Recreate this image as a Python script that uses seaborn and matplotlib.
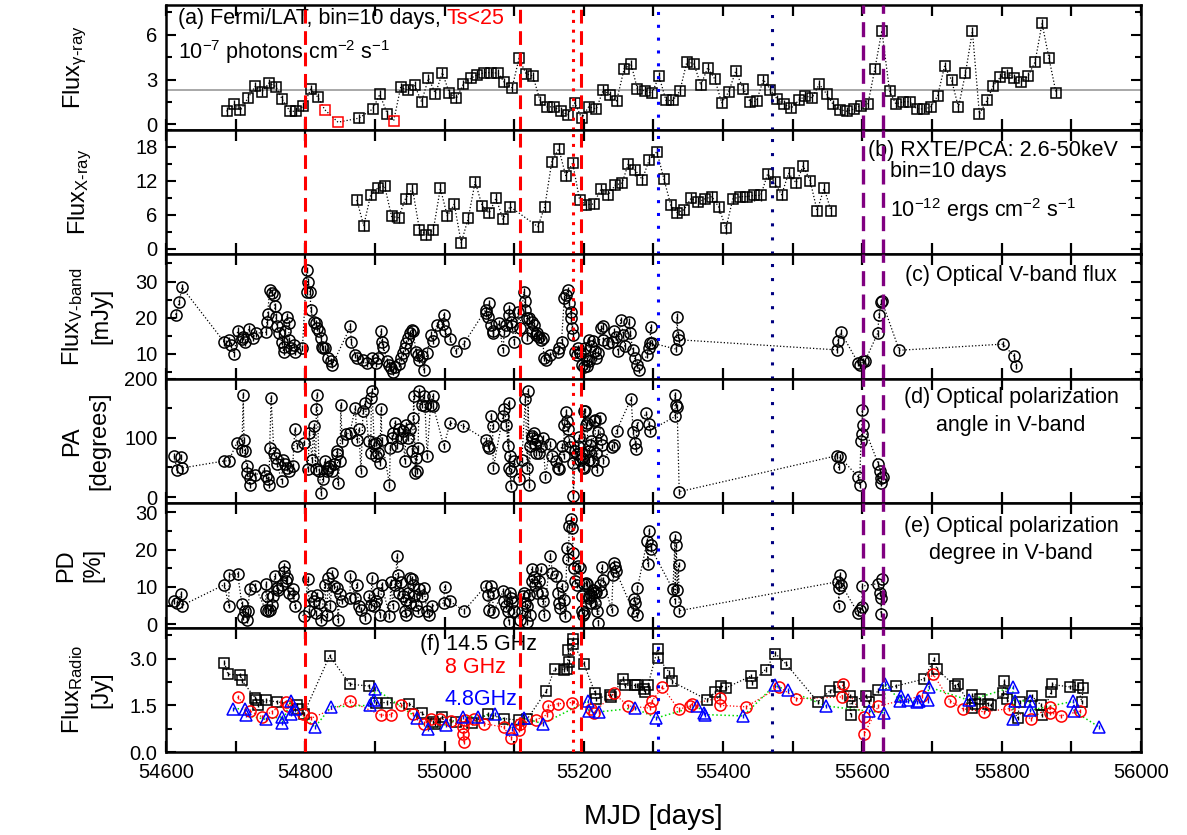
import numpy as np
import matplotlib
matplotlib.use("Agg")
import matplotlib.pyplot as plt
from matplotlib.ticker import MultipleLocator, FormatStrFormatter
import seaborn as sns

# ---------------------------------------------------------------- data
# (MJD, value) pairs for every light curve

# Fermi/LAT gamma-ray flux, 10-day bins [1e-7 ph cm^-2 s^-1]
gamma_flux = [
    (54687, 0.87), (54698, 1.33), (54707, 0.94), (54718, 1.78), (54728, 2.54),
    (54738, 2.17), (54748, 2.77), (54758, 2.52), (54767, 1.67), (54778, 0.87),
    (54787, 0.87), (54797, 1.21), (54808, 2.36), (54818, 1.83), (54877, 0.41),
    (54897, 1.03), (54907, 2.01), (54918, 0.69), (54937, 2.47), (54947, 2.31),
    (54957, 2.63), (54967, 1.51), (54977, 3.09), (54987, 2.06), (54997, 3.46),
    (55007, 2.08), (55017, 1.74), (55027, 2.70), (55038, 3.09), (55047, 3.32),
    (55057, 3.46), (55067, 3.46), (55077, 3.43), (55086, 2.81), (55097, 2.45),
    (55107, 4.42), (55117, 3.39), (55127, 3.23), (55137, 1.62), (55147, 1.17),
    (55157, 1.17), (55167, 0.87), (55177, 0.64), (55187, 1.44), (55197, 0.41),
    (55207, 1.17), (55218, 1.03), (55228, 2.31), (55238, 1.95), (55247, 1.56),
    (55258, 3.73), (55268, 4.03), (55277, 2.36), (55288, 2.24), (55298, 2.08),
    (55308, 3.23), (55318, 1.60), (55328, 1.60), (55338, 2.24), (55348, 4.19),
    (55358, 4.07), (55368, 2.63), (55378, 3.80), (55388, 3.04), (55398, 1.44),
    (55408, 2.17), (55418, 3.55), (55429, 2.40), (55439, 1.49), (55448, 1.56),
    (55458, 3.00), (55468, 2.31), (55478, 1.67), (55488, 1.33), (55498, 1.10),
    (55509, 1.62), (55518, 1.90), (55528, 1.78), (55538, 2.70), (55549, 2.01),
    (55558, 1.33), (55568, 0.98), (55578, 0.87), (55588, 1.03), (55598, 1.26),
    (55608, 1.37), (55618, 3.73), (55628, 6.29), (55639, 2.24), (55648, 1.37),
    (55658, 1.51), (55668, 1.51), (55678, 1.03), (55688, 1.03), (55698, 1.14),
    (55708, 1.90), (55718, 3.89), (55728, 2.97), (55738, 1.14), (55748, 3.43),
    (55758, 6.25), (55768, 0.69), (55779, 1.60), (55788, 2.59), (55798, 3.16),
    (55808, 3.43), (55818, 3.09), (55828, 2.86), (55838, 3.23), (55848, 4.19),
    (55858, 6.77), (55868, 4.42), (55878, 2.13),
]
gamma_err = 0.3
# bins with test statistic below 25
gamma_low_ts = [(54828, 0.98), (54847, 0.14), (54927, 0.23)]
gamma_mean = 2.27

# RXTE/PCA X-ray flux [1e-12 erg cm^-2 s^-1]
xray_flux = [
    (54874, 8.6), (54884, 4.1), (54894, 9.5), (54904, 10.7), (54914, 11.1),
    (54924, 5.7), (54934, 5.5), (54944, 8.85), (54954, 10.6), (54964, 3.4),
    (54974, 2.45), (54984, 3.4), (54994, 10.66), (55004, 5.8), (55014, 7.86),
    (55024, 1.05), (55034, 5.36), (55044, 11.8), (55054, 7.6), (55064, 6.3),
    (55074, 8.9), (55084, 5.2), (55094, 7.45), (55134, 3.9), (55144, 7.45),
    (55154, 15.3), (55164, 17.65), (55174, 12.9), (55184, 15.1), (55194, 8.6),
    (55203, 7.75), (55214, 7.9), (55225, 10.6), (55235, 9.5), (55245, 11.2),
    (55255, 11.6), (55264, 15.0), (55274, 13.8), (55284, 12.2), (55294, 15.7),
    (55305, 17.1), (55315, 12.3), (55325, 7.66), (55334, 6.4), (55344, 6.9),
    (55354, 8.9), (55364, 8.2), (55374, 8.8), (55384, 9.2), (55394, 7.3),
    (55404, 3.6), (55414, 8.8), (55425, 9.2), (55434, 9.2), (55444, 9.4),
    (55454, 9.4), (55464, 13.2), (55474, 11.7), (55484, 9.5), (55494, 13.3),
    (55505, 11.6), (55515, 14.6), (55525, 12.0), (55535, 6.7), (55545, 10.7),
    (55555, 6.7),
]
xray_err = 0.9

# optical V-band flux [mJy]
vband_flux = [
    (54614, 20.8), (54619, 24.3), (54623, 28.4), (54684, 13.2), (54691, 13.9),
    (54693, 12.5), (54698, 10.0), (54703, 16.4), (54709, 14.1), (54711, 14.8),
    (54714, 13.2), (54719, 17.0), (54725, 14.5), (54729, 15.7), (54744, 16.0),
    (54745, 18.9), (54746, 21.0), (54749, 27.7), (54752, 26.8), (54755, 26.3),
    (54756, 23.1), (54758, 20.3), (54759, 17.6), (54763, 15.7), (54766, 13.4),
    (54769, 10.6), (54770, 12.0), (54771, 16.2), (54774, 20.3), (54776, 18.5),
    (54777, 13.9), (54780, 11.6), (54784, 12.5), (54785, 10.6), (54796, 11.6),
    (54802, 33.2), (54803, 27.2), (54804, 30.0), (54807, 27.2), (54808, 22.2),
    (54812, 18.9), (54815, 18.5), (54817, 17.1), (54820, 16.2), (54823, 14.5),
    (54824, 12.0), (54826, 11.6), (54829, 11.6), (54833, 8.8), (54837, 7.9),
    (54839, 7.0), (54865, 17.6), (54866, 13.4), (54872, 9.7), (54874, 9.0),
    (54883, 8.3), (54888, 7.4), (54896, 8.8), (54901, 7.4), (54904, 8.8),
    (54909, 16.2), (54910, 13.4), (54912, 12.0), (54918, 7.9), (54920, 7.0),
    (54923, 6.0), (54926, 5.1), (54929, 6.5), (54934, 7.2), (54937, 8.8),
    (54940, 10.2), (54943, 11.6), (54945, 13.0), (54948, 14.4), (54951, 15.7),
    (54953, 16.6), (54955, 16.2), (54959, 10.6), (54962, 9.7), (54964, 8.3),
    (54967, 9.3), (54970, 5.6), (54975, 10.2), (54980, 15.3), (54983, 13.7),
    (54989, 18.0), (54998, 18.2), (54999, 20.8), (55000, 16.2), (55008, 14.1),
    (55016, 10.8), (55028, 12.9), (55059, 22.2), (55060, 21.2), (55062, 20.3),
    (55064, 24.0), (55067, 18.0), (55069, 16.2), (55070, 15.7), (55078, 18.5),
    (55084, 11.1), (55086, 16.2), (55089, 18.0), (55092, 20.8), (55093, 22.6),
    (55095, 18.9), (55097, 17.6), (55100, 13.4), (55106, 21.7), (55108, 17.1),
    (55114, 27.2), (55115, 24.5), (55116, 22.2), (55118, 19.9), (55119, 14.4),
    (55122, 19.9), (55125, 18.9), (55126, 16.2), (55129, 18.0), (55131, 15.3),
    (55133, 15.7), (55135, 14.8), (55138, 13.9), (55141, 14.4), (55143, 8.8),
    (55146, 8.3), (55152, 9.7), (55163, 10.6), (55165, 11.6), (55168, 13.4),
    (55172, 25.4), (55175, 26.3), (55177, 27.7), (55179, 24.0), (55181, 21.7),
    (55182, 19.9), (55183, 17.1), (55185, 15.3), (55188, 10.6), (55190, 9.7),
    (55192, 11.6), (55194, 10.2), (55197, 7.0), (55200, 6.5), (55202, 11.6),
    (55204, 6.6), (55205, 8.3), (55207, 8.0), (55208, 13.9), (55210, 12.1),
    (55213, 13.6), (55216, 10.7), (55218, 8.9), (55221, 10.2), (55224, 17.1),
    (55227, 17.6), (55228, 13.9), (55235, 13.0), (55240, 13.4), (55243, 16.2),
    (55246, 14.8), (55249, 10.7), (55253, 19.4), (55257, 15.3), (55259, 12.1),
    (55265, 18.9), (55267, 15.7), (55270, 11.1), (55273, 8.9), (55276, 7.0),
    (55279, 5.6), (55291, 9.8), (55293, 11.6), (55295, 13.0), (55296, 17.3),
    (55298, 13.0), (55333, 11.3), (55334, 20.3), (55335, 15.3), (55337, 13.9),
    (55564, 11.1), (55565, 13.6), (55569, 16.0), (55594, 7.5), (55597, 7.0),
    (55601, 7.9), (55604, 8.1), (55622, 15.7), (55624, 20.8), (55627, 24.3),
    (55628, 24.6), (55653, 11.0), (55802, 12.7), (55818, 9.3), (55821, 6.7),
]
vband_err = 0.9

# optical polarization angle [deg]
pol_angle = [
    (54612, 69), (54616, 45), (54622, 67), (54623, 49), (54684, 61), (54690, 61),
    (54702, 92), (54709, 80), (54711, 173), (54712, 97), (54713, 78), (54716, 52),
    (54717, 41), (54720, 21), (54721, 33), (54728, 37), (54741, 45), (54744, 35),
    (54747, 30), (54748, 21), (54749, 83), (54751, 167), (54755, 75), (54758, 66),
    (54760, 55), (54766, 27), (54768, 63), (54771, 55), (54774, 49), (54777, 44),
    (54782, 52), (54785, 114), (54788, 86), (54798, 92), (54804, 47), (54806, 108),
    (54810, 63), (54812, 120), (54815, 47), (54816, 149), (54817, 173), (54820, 44),
    (54823, 7), (54825, 30), (54828, 61), (54831, 44), (54833, 49), (54836, 52),
    (54839, 44), (54842, 55), (54845, 72), (54846, 78), (54847, 24), (54850, 61),
    (54851, 156), (54853, 94), (54858, 106), (54864, 108), (54872, 151), (54874, 97),
    (54877, 114), (54880, 44), (54883, 145), (54886, 159), (54891, 94), (54894, 75),
    (54895, 167), (54896, 179), (54899, 89), (54901, 69), (54902, 92), (54905, 75),
    (54907, 58), (54909, 148), (54910, 97), (54921, 21), (54922, 83), (54924, 100),
    (54926, 108), (54929, 125), (54932, 86), (54935, 114), (54937, 100), (54940, 111),
    (54943, 61), (54945, 122), (54948, 100), (54951, 114), (54954, 78), (54955, 134),
    (54956, 170), (54958, 41), (54959, 66), (54960, 44), (54962, 83), (54964, 179),
    (54967, 156), (54970, 170), (54972, 153), (54975, 69), (54980, 156), (54983, 170),
    (54984, 153), (54999, 86), (55008, 125), (55027, 120), (55059, 97), (55062, 86),
    (55064, 83), (55067, 137), (55069, 120), (55070, 49), (55084, 137), (55086, 148),
    (55089, 122), (55091, 86), (55092, 159), (55093, 49), (55094, 69), (55095, 19),
    (55096, 44), (55100, 61), (55107, 30), (55111, 63), (55116, 165), (55119, 49),
    (55120, 179), (55122, 21), (55123, 86), (55125, 103), (55126, 100), (55129, 108),
    (55130, 89), (55132, 75), (55133, 97), (55136, 75), (55139, 86), (55141, 100),
    (55145, 34), (55152, 89), (55155, 69), (55160, 61), (55163, 49), (55165, 47),
    (55168, 86), (55171, 69), (55172, 122), (55175, 144), (55176, 128), (55177, 114),
    (55179, 94), (55180, 84), (55184, 58), (55185, 2), (55188, 78), (55190, 72),
    (55192, 86), (55193, 101), (55195, 63), (55197, 66), (55198, 72), (55199, 51),
    (55200, 145), (55201, 49), (55202, 146), (55203, 122), (55204, 125), (55207, 78),
    (55208, 63), (55209, 87), (55211, 95), (55213, 61), (55214, 128), (55216, 130),
    (55217, 75), (55219, 45), (55221, 109), (55223, 133), (55224, 98), (55226, 87),
    (55228, 61), (55240, 85), (55243, 88), (55247, 112), (55268, 166), (55271, 109),
    (55274, 92), (55275, 81), (55276, 122), (55290, 141), (55293, 124), (55295, 112),
    (55331, 136), (55331, 172), (55332, 155), (55334, 152), (55337, 9),
    (55564, 70), (55566, 50), (55568, 67), (55594, 34), (55596, 20), (55598, 95),
    (55599, 107), (55600, 147), (55601, 122), (55623, 56), (55626, 44), (55627, 33),
    (55627, 23), (55629, 34),
]
pol_angle_err = 5

# optical polarization degree [%]
pol_degree = [
    (54611, 6.1), (54616, 5.7), (54622, 8.1), (54623, 5.0), (54684, 10.6), (54690, 5.0),
    (54691, 13.3), (54703, 13.5), (54709, 5.4), (54711, 1.9), (54714, 3.4), (54717, 1.0),
    (54718, 3.6), (54720, 9.3), (54728, 10.2), (54743, 3.9), (54744, 10.9), (54745, 7.5),
    (54747, 3.4), (54749, 3.9), (54752, 5.2), (54754, 7.5), (54756, 12.9), (54759, 9.7),
    (54761, 9.1), (54766, 10.6), (54769, 15.6), (54770, 14.0), (54773, 11.5), (54774, 12.4),
    (54776, 8.4), (54782, 7.5), (54783, 9.3), (54785, 4.8), (54798, 2.1), (54804, 12.2),
    (54806, 3.4), (54809, 7.5), (54812, 6.1), (54815, 3.0), (54817, 7.9), (54820, 5.7),
    (54823, 1.0), (54828, 10.6), (54831, 2.5), (54833, 12.4), (54836, 4.8), (54839, 13.6),
    (54842, 10.2), (54845, 9.7), (54847, 1.2), (54850, 8.1), (54853, 6.1), (54864, 7.0),
    (54865, 12.9), (54872, 7.0), (54874, 10.6), (54877, 4.8), (54880, 3.9), (54886, 1.6),
    (54891, 7.5), (54894, 5.2), (54896, 12.4), (54899, 4.8), (54902, 6.1), (54905, 8.4),
    (54907, 2.5), (54910, 10.6), (54921, 2.1), (54923, 11.3), (54926, 4.8), (54929, 10.6),
    (54932, 18.3), (54933, 13.3), (54935, 8.4), (54937, 11.3), (54940, 7.5), (54943, 3.4),
    (54944, 2.5), (54945, 6.6), (54948, 8.4), (54950, 5.7), (54951, 12.4), (54954, 12.0),
    (54955, 10.6), (54956, 7.5), (54959, 5.2), (54962, 3.4), (54964, 9.3), (54967, 7.5),
    (54970, 9.7), (54975, 3.4), (54978, 2.5), (54982, 4.8), (54999, 5.7), (55000, 10.0),
    (55008, 6.1), (55028, 3.6), (55059, 10.2), (55062, 7.9), (55064, 3.9), (55067, 10.2),
    (55069, 8.4), (55070, 3.2), (55084, 8.8), (55086, 6.1), (55089, 4.8), (55091, 3.4),
    (55092, 0.7), (55094, 8.4), (55095, 7.0), (55097, 5.9), (55100, 3.4), (55108, 1.0),
    (55111, 3.4), (55112, 7.5), (55114, 8.4), (55116, 5.7), (55118, 4.8), (55119, 0.7),
    (55122, 7.9), (55123, 2.5), (55125, 14.7), (55126, 11.5), (55129, 12.7), (55130, 10.6),
    (55133, 8.4), (55136, 11.5), (55138, 14.7), (55140, 8.4), (55141, 6.1), (55143, 2.5),
    (55152, 18.3), (55155, 13.8), (55160, 12.9), (55163, 8.4), (55164, 5.7), (55166, 4.3),
    (55168, 10.2), (55172, 6.6), (55173, 2.1), (55176, 20.5), (55178, 17.4), (55179, 26.2),
    (55182, 28.2), (55183, 25.9), (55185, 19.2), (55186, 15.1), (55188, 11.5), (55190, 10.6),
    (55192, 15.6), (55195, 15.1), (55197, 3.4), (55198, 7.5), (55199, 2.5), (55200, 3.0),
    (55201, 10.7), (55203, 11.1), (55204, 10.7), (55207, 6.9), (55208, 7.5), (55210, 7.8),
    (55211, 5.7), (55213, 9.1), (55214, 8.4), (55216, 5.6), (55217, 8.7), (55219, 3.4),
    (55221, 0.4), (55223, 10.5), (55224, 8.7), (55226, 15.4), (55228, 11.8), (55240, 3.8),
    (55242, 13.1), (55243, 16.4), (55245, 15.4), (55246, 14.3), (55271, 3.4), (55272, 6.7),
    (55274, 5.6), (55276, 2.5), (55277, 9.6), (55291, 22.4), (55292, 16.2), (55294, 25.1),
    (55296, 21.1), (55297, 20.2), (55328, 9.3), (55331, 23.3), (55331, 6.2), (55333, 21.1),
    (55334, 9.1), (55336, 16.0), (55337, 3.6), (55565, 11.4), (55566, 9.6), (55566, 4.9),
    (55568, 13.1), (55570, 10.5), (55594, 2.9), (55596, 3.8), (55599, 4.7), (55600, 10.2),
    (55623, 10.9), (55626, 8.3), (55627, 6.9), (55627, 2.8), (55628, 12.0),
]
pol_degree_err = 0.8

# radio flux density [Jy]
radio_14p5 = [
    (54684, 2.87), (54689, 2.50), (54707, 2.47), (54709, 2.30), (54728, 1.74),
    (54730, 1.66), (54732, 1.50), (54744, 1.66), (54760, 1.61), (54788, 1.52),
    (54790, 1.39), (54798, 1.23), (54835, 3.09), (54864, 2.18), (54891, 2.12),
    (54902, 1.58), (54917, 1.59), (54949, 1.55), (54967, 1.26), (54984, 0.96),
    (54986, 0.91), (54997, 1.13), (55017, 0.96), (55039, 0.93), (55062, 1.21),
    (55086, 1.07), (55107, 1.02), (55119, 1.07), (55146, 1.95), (55158, 2.66),
    (55171, 2.65), (55176, 2.68), (55178, 3.27), (55179, 2.89), (55184, 3.64),
    (55185, 3.48), (55200, 2.84), (55216, 1.91), (55218, 1.71), (55238, 1.84),
    (55239, 1.77), (55257, 2.36), (55259, 2.14), (55273, 2.14), (55276, 2.14),
    (55287, 2.04), (55288, 1.93), (55292, 2.14), (55306, 3.30), (55307, 3.02),
    (55323, 2.55), (55326, 2.27), (55377, 1.68), (55389, 1.93), (55397, 2.12),
    (55404, 2.06), (55440, 2.44), (55441, 2.22), (55461, 2.65), (55475, 3.16),
    (55490, 2.84), (55536, 1.61), (55553, 1.96), (55567, 2.09), (55582, 1.80),
    (55583, 1.18), (55585, 1.61), (55605, 1.80), (55609, 1.61), (55623, 1.98),
    (55648, 2.12), (55688, 2.34), (55703, 2.98), (55707, 2.66), (55733, 2.12),
    (55737, 2.17), (55757, 1.41), (55758, 1.84), (55762, 1.55), (55769, 1.71),
    (55780, 1.55), (55784, 1.50), (55802, 1.88), (55804, 2.27), (55808, 1.69),
    (55823, 1.09), (55826, 1.61), (55843, 1.80), (55857, 1.50), (55858, 1.18),
    (55871, 1.93), (55872, 2.17), (55898, 2.09), (55909, 2.14), (55915, 1.61),
    (55917, 2.06),
]
radio_8 = [
    (54703, 1.77), (54721, 1.31), (54738, 1.13), (54752, 1.29), (54772, 1.61),
    (54775, 1.48), (54797, 1.23), (54809, 1.09), (54865, 1.63), (54909, 1.18),
    (54923, 1.20), (54937, 1.52), (54955, 1.23), (54970, 0.91), (54980, 1.07),
    (54994, 1.07), (55010, 0.99), (55026, 0.80), (55027, 0.59), (55028, 0.32),
    (55029, 1.02), (55043, 1.07), (55057, 0.91), (55085, 0.80), (55095, 0.45),
    (55107, 0.70), (55109, 0.91), (55131, 1.02), (55147, 1.20), (55149, 1.48),
    (55163, 1.55), (55183, 1.59), (55211, 1.39), (55214, 1.26), (55243, 1.88),
    (55264, 1.48), (55295, 1.41), (55298, 1.64), (55313, 2.09), (55336, 1.37),
    (55353, 1.48), (55356, 1.55), (55395, 1.74), (55396, 1.50), (55433, 1.45),
    (55481, 2.09), (55505, 1.71), (55571, 1.77), (55572, 2.20), (55602, 1.13),
    (55603, 0.59), (55623, 1.48), (55685, 1.80), (55701, 2.52), (55726, 1.64),
    (55744, 1.39), (55775, 1.29), (55810, 1.39), (55842, 1.07), (55869, 1.45),
    (55870, 1.26), (55885, 1.16), (55912, 1.31),
]
radio_4p8 = [
    (54697, 1.39), (54714, 1.39), (54715, 1.18), (54743, 1.05), (54766, 1.13),
    (54767, 0.94), (54779, 1.63), (54780, 1.23), (54785, 1.37), (54814, 0.80),
    (54837, 1.45), (54893, 1.50), (54899, 1.66), (54900, 2.04), (54961, 1.09),
    (54977, 0.73), (55002, 0.88), (55026, 1.13), (55048, 1.13), (55073, 1.23),
    (55097, 0.75), (55114, 1.09), (55141, 0.91), (55206, 1.64), (55207, 1.31),
    (55222, 1.29), (55273, 1.41), (55304, 1.09), (55363, 1.48), (55372, 1.26),
    (55374, 1.20), (55429, 1.16), (55474, 2.14), (55493, 1.98), (55548, 1.48),
    (55609, 1.31), (55631, 1.26), (55633, 2.20), (55654, 1.64), (55655, 1.80),
    (55665, 1.66), (55678, 1.61), (55681, 1.63), (55694, 1.66), (55695, 2.09),
    (55753, 1.66), (55816, 2.09), (55817, 1.07), (55819, 1.64), (55840, 1.64),
    (55841, 1.34), (55903, 1.63), (55904, 1.31), (55940, 0.80),
]
radio_err = 0.07

# flare / event epochs marked across all panels [MJD]
red_dashed_mjd = [54800, 55109, 55196]
red_dotted_mjd = [55185]
blue_dotted_mjd = [55306]
navy_dotted_mjd = [55470]
purple_dashed_mjd = [55601, 55629]

# ---------------------------------------------------------------- style
sns.set_theme(style="ticks")
plt.rcParams["font.family"] = ["Liberation Sans", "DejaVu Sans"]
plt.rcParams["mathtext.fontset"] = "custom"
plt.rcParams["mathtext.rm"] = "Liberation Sans"
plt.rcParams["mathtext.it"] = "Liberation Sans:italic"
plt.rcParams["mathtext.default"] = "regular"
plt.rcParams["axes.linewidth"] = 1.8
plt.rcParams["axes.edgecolor"] = "black"
for key in ("text.color", "axes.labelcolor", "xtick.color", "ytick.color"):
    plt.rcParams[key] = "black"

TICK_FS = 14.5
LABEL_FS = 17
NOTE_FS = 15.5


def as_xy(pairs):
    arr = np.asarray(pairs, dtype=float)
    order = np.argsort(arr[:, 0], kind="stable")
    return arr[order, 0], arr[order, 1]


def connect(ax, pairs, color, lw=0.9):
    x, y = as_xy(pairs)
    sns.lineplot(x=x, y=y, ax=ax, color=color, linestyle=":", linewidth=lw,
                 estimator=None, sort=False, legend=False, zorder=2)


def markers(ax, pairs, err, marker, color, ms):
    x, y = as_xy(pairs)
    if err:
        ax.errorbar(x, y, yerr=err, fmt="none", ecolor=color, elinewidth=1.0,
                    capsize=0, zorder=3)
    ax.plot(x, y, ls="none", marker=marker, ms=ms, mfc="none", mec=color,
            mew=1.1, zorder=4)


fig = plt.figure(figsize=(11.87, 8.35), dpi=100)
axes = fig.subplots(6, 1, sharex=True, gridspec_kw=dict(hspace=0))
fig.subplots_adjust(left=0.1398, right=0.9612, top=0.994, bottom=0.0994)
ax_g, ax_x, ax_v, ax_pa, ax_pd, ax_r = axes

# (a) gamma rays
ax_g.axhline(gamma_mean, color="#9a9a9a", lw=1.2, zorder=1)
connect(ax_g, gamma_flux + gamma_low_ts, "black")
markers(ax_g, gamma_flux, gamma_err, "s", "black", 7)
markers(ax_g, gamma_low_ts, 0, "s", "red", 7)

# (b) X-rays
connect(ax_x, xray_flux, "black")
markers(ax_x, xray_flux, xray_err, "s", "black", 7)

# (c) optical flux
connect(ax_v, vband_flux, "black")
markers(ax_v, vband_flux, vband_err, "o", "black", 8)

# (d) polarization angle
connect(ax_pa, pol_angle, "black")
markers(ax_pa, pol_angle, pol_angle_err, "o", "black", 8)

# (e) polarization degree
connect(ax_pd, pol_degree, "black")
markers(ax_pd, pol_degree, pol_degree_err, "o", "black", 8)

# (f) radio
connect(ax_r, radio_14p5, "black")
connect(ax_r, radio_8, "red")
connect(ax_r, radio_4p8, "#00dd00", lw=1.1)
markers(ax_r, radio_14p5, radio_err, "s", "black", 7)
markers(ax_r, radio_8, radio_err, "o", "red", 8)
markers(ax_r, radio_4p8, radio_err, "^", "blue", 8.5)

# event epochs
for ax in axes:
    for d in red_dashed_mjd:
        ax.axvline(d, color="red", lw=2.2, ls=(0, (4.5, 2.5)), zorder=5)
    for d in red_dotted_mjd:
        ax.axvline(d, color="red", lw=2.2, ls=(0, (1, 2.2)), zorder=5)
    for d in blue_dotted_mjd:
        ax.axvline(d, color="blue", lw=2.2, ls=(0, (1, 3.2)), zorder=5)
    for d in navy_dotted_mjd:
        ax.axvline(d, color="#000080", lw=2.2, ls=(0, (1, 3.6)), zorder=5)
    for d in purple_dashed_mjd:
        ax.axvline(d, color="#800080", lw=2.4, ls=(0, (4.5, 2.5)), zorder=5)

# axes ranges and ticks
limits = [(-0.35, 8.0), (-0.9, 21.0), (3.2, 37.6), (-10, 200), (-0.9, 32.5), (0, 4.0)]
major = [3, 6, 10, 100, 10, 1.5]
minor = [1.5, 3, 5, 50, 5, 0.75]
fmts = ["%d", "%d", "%d", "%d", "%d", "%.1f"]
ylabels = [
    "Flux$_{\\gamma\u2010\\mathrm{ray}}$",
    "Flux$_{\\mathrm{X\u2010ray}}$",
    "Flux$_{\\mathrm{V\u2010band}}$\n[mJy]",
    "PA\n[degrees]",
    "PD\n[%]",
    "Flux$_{\\mathrm{Radio}}$\n[Jy]",
]
label_x = [-0.093, -0.088, -0.082, -0.082, -0.088, -0.082]

for ax, lim, mj, mn, fm, lab, lx in zip(axes, limits, major, minor, fmts, ylabels, label_x):
    ax.set_xlim(54600, 56000)
    ax.set_ylim(*lim)
    ax.yaxis.set_major_locator(MultipleLocator(mj))
    ax.yaxis.set_minor_locator(MultipleLocator(mn))
    ax.yaxis.set_major_formatter(FormatStrFormatter(fm))
    ax.xaxis.set_major_locator(MultipleLocator(200))
    ax.xaxis.set_minor_locator(MultipleLocator(100))
    ax.tick_params(axis="x", which="both", direction="in", top=True, bottom=True,
                   length=8, width=1.6, labelsize=TICK_FS, pad=8)
    ax.tick_params(axis="y", which="major", direction="in", left=True, right=True,
                   length=7, width=1.5, labelsize=TICK_FS, pad=6)
    ax.tick_params(axis="y", which="minor", direction="in", left=True, right=True,
                   length=4.5, width=1.5)
    ax.set_ylabel(lab, fontsize=LABEL_FS, linespacing=1.3)
    ax.yaxis.label.set_verticalalignment("center")
    ax.yaxis.set_label_coords(lx, 0.5)
    for s in ax.spines.values():
        s.set_linewidth(1.8)
    ax.set_xlabel("")

ax_r.xaxis.set_major_formatter(FormatStrFormatter("%d"))
ax_r.set_xlabel("MJD [days]", fontsize=20, labelpad=16)

# panel annotations
t_a = ax_g.text(0.0123, 0.895, "(a) Fermi/LAT, bin=10 days, ", transform=ax_g.transAxes,
                fontsize=NOTE_FS, va="center", ha="left")
fig.canvas.draw()
bb = t_a.get_window_extent(renderer=fig.canvas.get_renderer())
x_end = ax_g.transAxes.inverted().transform((bb.x1, bb.y0))[0]
ax_g.text(x_end, 0.895, "Ts<25", transform=ax_g.transAxes, fontsize=NOTE_FS,
          va="center", ha="left", color="red")
ax_g.text(0.0123, 0.62, "10$^{-7}$ photons cm$^{-2}$ s$^{-1}$", transform=ax_g.transAxes,
          fontsize=NOTE_FS, va="center", ha="left")

ax_x.text(0.72, 0.835, "(b) RXTE/PCA: 2.6-50keV", transform=ax_x.transAxes,
          fontsize=NOTE_FS, va="center", ha="left")
ax_x.text(0.7426, 0.66, "bin=10 days", transform=ax_x.transAxes,
          fontsize=NOTE_FS, va="center", ha="left")
ax_x.text(0.7426, 0.35, "10$^{-12}$ ergs cm$^{-2}$ s$^{-1}$", transform=ax_x.transAxes,
          fontsize=NOTE_FS, va="center", ha="left")

ax_v.text(0.758, 0.83, "(c) Optical V-band flux", transform=ax_v.transAxes,
          fontsize=NOTE_FS, va="center", ha="left")
ax_pa.text(0.8667, 0.735, "(d) Optical polarization\nangle in V-band", transform=ax_pa.transAxes,
           fontsize=NOTE_FS, va="center", ha="center", multialignment="center",
           linespacing=1.4)
ax_pd.text(0.8667, 0.705, "(e) Optical polarization\ndegree in V-band", transform=ax_pd.transAxes,
           fontsize=NOTE_FS, va="center", ha="center", multialignment="center",
           linespacing=1.4)

ax_r.text(0.2605, 0.86, "(f) 14.5 GHz", transform=ax_r.transAxes,
          fontsize=NOTE_FS, va="center", ha="left")
ax_r.text(0.286, 0.675, "8 GHz", transform=ax_r.transAxes,
          fontsize=NOTE_FS, va="center", ha="left", color="red")
ax_r.text(0.286, 0.42, "4.8GHz", transform=ax_r.transAxes,
          fontsize=NOTE_FS, va="center", ha="left", color="blue")

fig.savefig("out.png", dpi=100)
